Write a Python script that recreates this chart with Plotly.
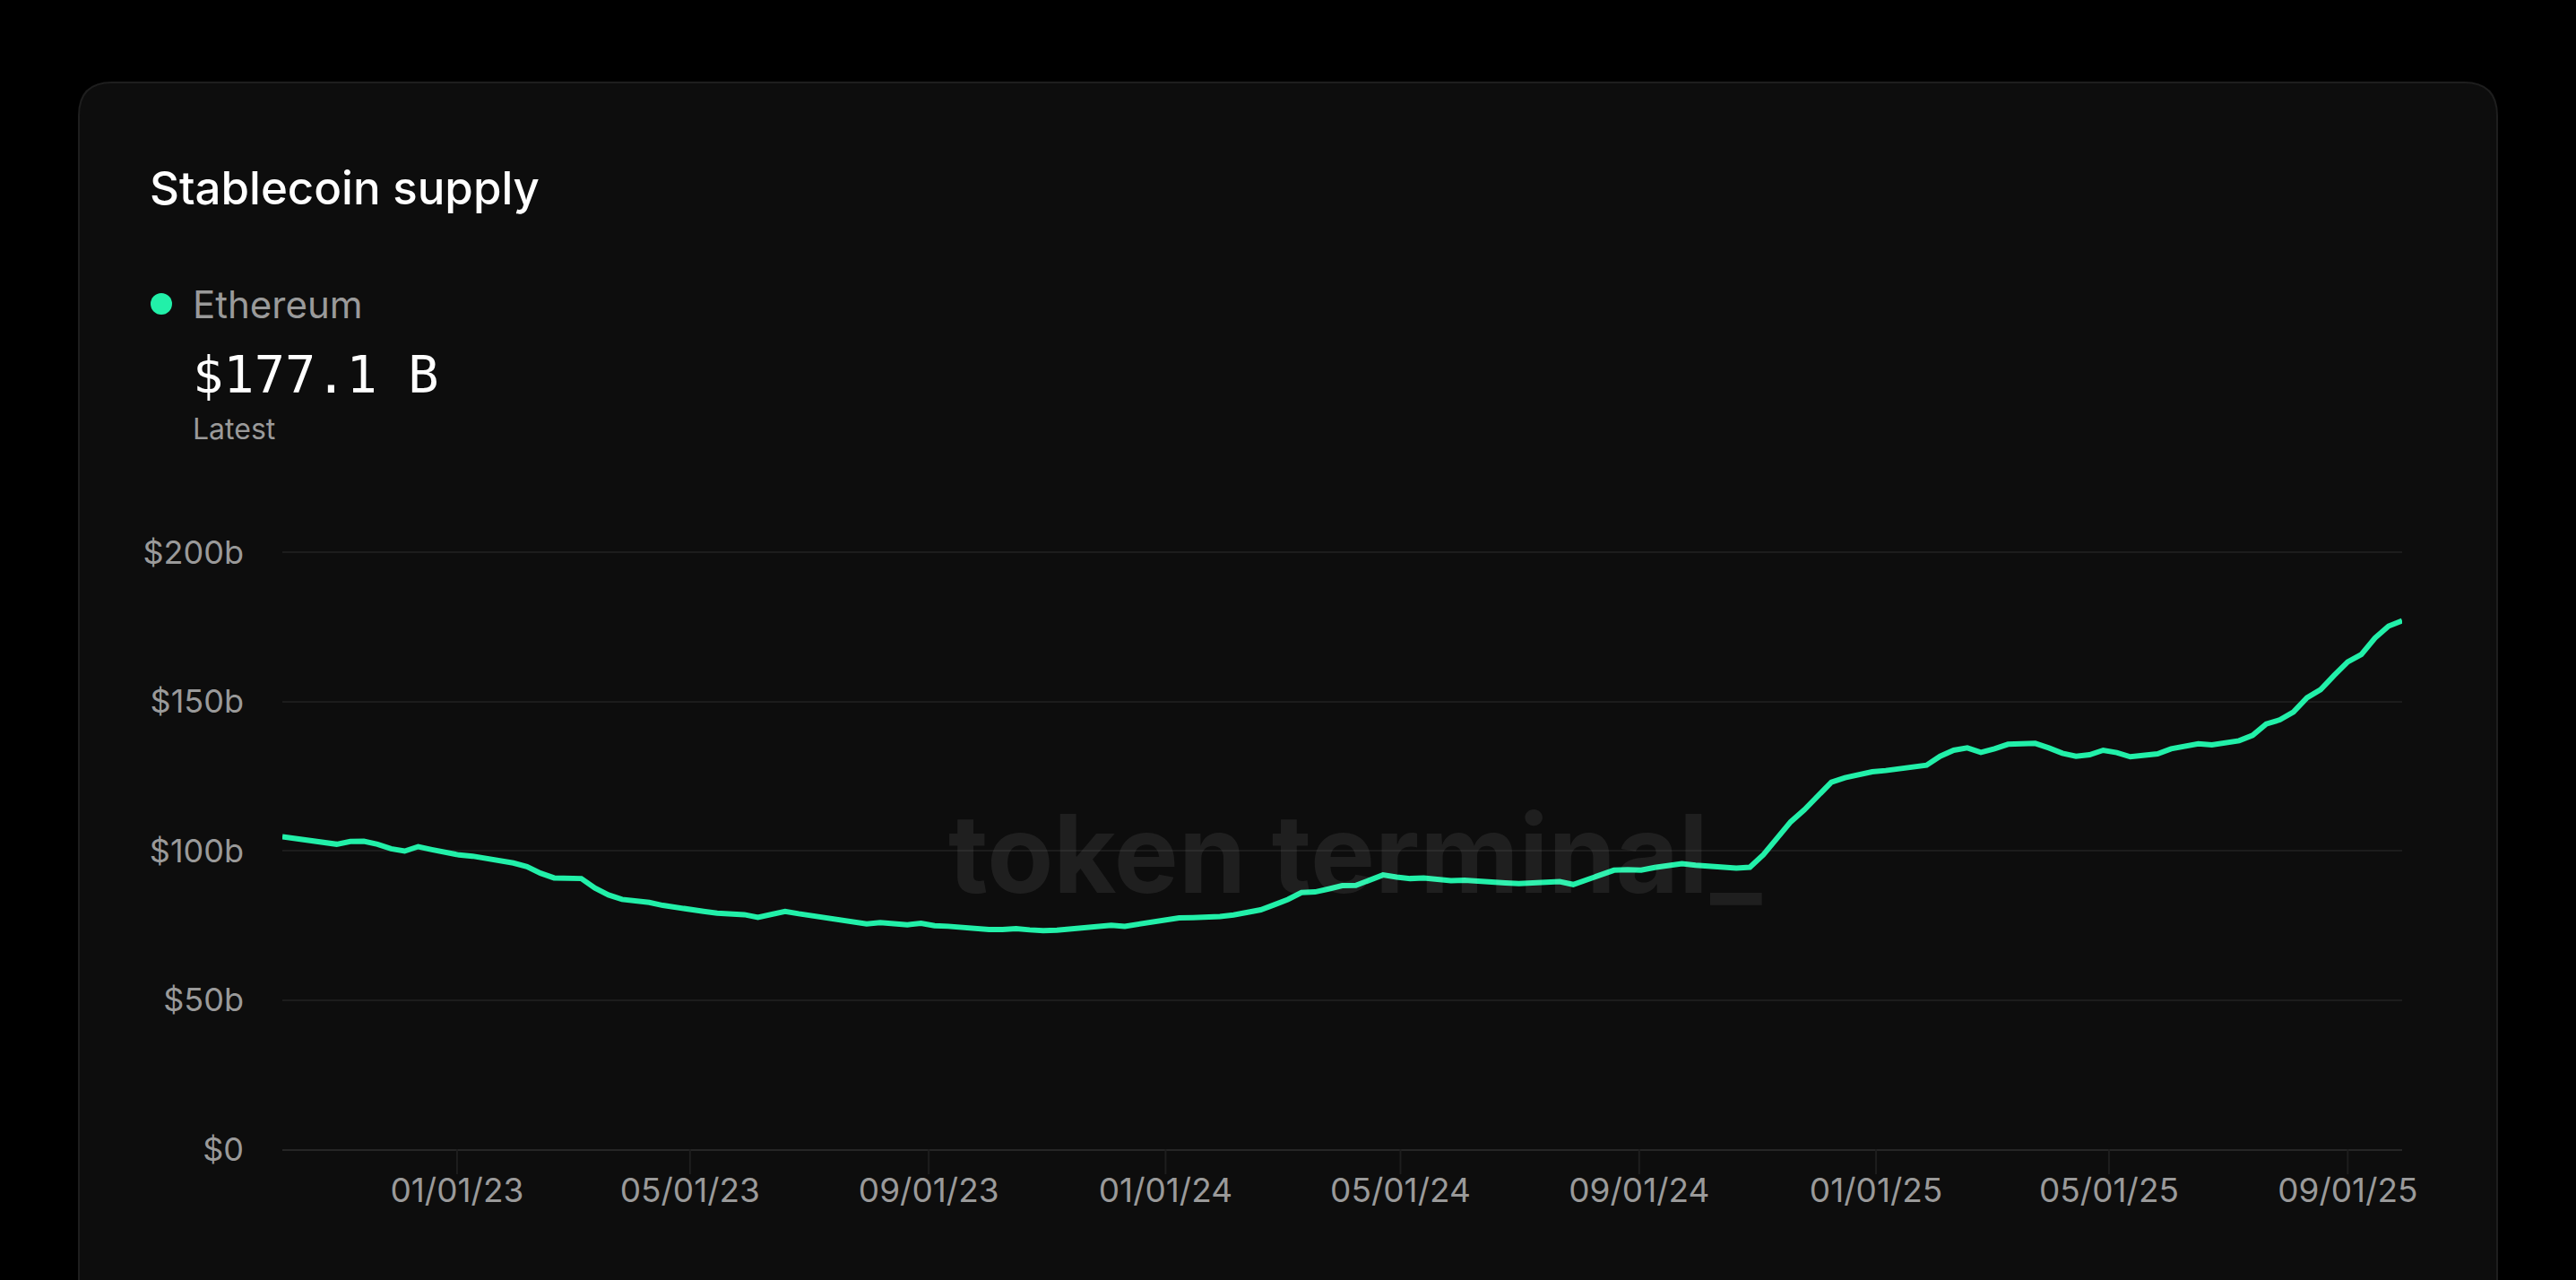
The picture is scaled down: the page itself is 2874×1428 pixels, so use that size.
import pandas as pd
import plotly.graph_objects as go

# weekly stablecoin supply on Ethereum, $ billions
start_date = "2022-10-03"
supply_b = [
    104.7, 104.1, 103.5, 102.9, 102.2, 103.1, 103.2, 102.2, 100.7, 99.9,
    101.4, 100.4, 99.4, 98.6, 98.2, 97.5, 96.6, 95.9, 94.7, 92.5,
    90.9, 90.7, 90.7, 87.5, 85.2, 83.7, 83.2, 82.7, 81.7, 80.9,
    80.4, 79.7, 79.1, 78.9, 78.6, 77.7, 78.7, 79.7, 78.9, 78.2,
    77.6, 77.0, 76.3, 75.5, 75.9, 75.7, 75.2, 75.7, 74.9, 74.7,
    74.2, 73.7, 73.6, 73.6, 73.9, 73.5, 73.2, 73.4, 73.7, 74.4,
    74.7, 75.0, 74.7, 75.4, 75.9, 76.7, 77.5, 77.6, 77.7, 78.0,
    78.5, 79.2, 80.2, 81.9, 83.7, 86.0, 86.2, 87.2, 88.3, 88.4,
    90.2, 91.9, 91.2, 90.7, 90.9, 90.5, 90.0, 90.1, 89.7, 89.5,
    89.2, 89.0, 89.2, 89.5, 89.7, 88.7, 90.2, 91.9, 93.5, 93.7,
    93.5, 94.4, 95.0, 95.7, 95.2, 95.0, 94.7, 94.2, 94.5, 98.7,
    104.2, 109.7, 113.7, 118.2, 123.0, 124.5, 125.7, 126.5, 126.9, 127.4,
    127.9, 128.7, 131.7, 133.7, 134.5, 133.0, 134.2, 135.7, 135.9, 136.0,
    134.5, 132.7, 131.7, 132.2, 133.7, 132.9, 131.5, 131.9, 132.5, 134.2,
    134.9, 135.9, 135.5, 136.4, 136.9, 138.7, 142.5, 143.9, 146.5, 151.3,
    154.0, 158.8, 163.3, 165.8, 171.3, 175.3, 177.1,
]
dates = pd.date_range(start=start_date, periods=len(supply_b), freq="7D")

x_tickvals = ["2023-01-01", "2023-05-01", "2023-09-01", "2024-01-01", "2024-05-01",
              "2024-09-01", "2025-01-01", "2025-05-01", "2025-09-01"]
y_tickvals = [0, 50, 100, 150, 200]
y_ticktext = ["$0", "$50b", "$100b", "$150b", "$200b"]

series_name = "Ethereum"
latest_text = "$177.1 B"

# layout in pixels
W, H = 2874, 1428
L, R, T, B = 315, 194, 613, 146
pw, ph = W - L - R, H - T - B

def px_x(p):
    return (p - L) / pw

def px_y(p):
    return (H - B - p) / ph

green = "#22F0A9"
grey = "#9a9a9a"

fig = go.Figure()

fig.add_trace(go.Scatter(
    x=dates, y=supply_b, mode="lines",
    line=dict(color=green, width=6),
    hoverinfo="skip", showlegend=False,
))

# card behind everything
x0, x1 = px_x(88), px_x(2786)
y0, y1 = px_y(1500), px_y(92)
rx, ry = 37 / pw, 37 / ph
card_path = (
    f"M {x0},{y0} L {x0},{y1 - ry} Q {x0},{y1} {x0 + rx},{y1} "
    f"L {x1 - rx},{y1} Q {x1},{y1} {x1},{y1 - ry} L {x1},{y0} Z"
)
fig.add_shape(type="path", path=card_path, xref="paper", yref="paper",
              fillcolor="#0d0d0d", line=dict(color="#1e1e1e", width=2), layer="below")

# little tick marks under the axis
for tv in x_tickvals:
    fig.add_shape(type="line", xref="x", yref="paper", x0=tv, x1=tv,
                  y0=0, y1=-28 / ph, line=dict(color="#1e1e1e", width=2))

# legend dot
fig.add_shape(type="circle", xref="paper", yref="paper",
              xsizemode="pixel", ysizemode="pixel",
              xanchor=px_x(180), yanchor=px_y(339),
              x0=-12, x1=12, y0=-12, y1=12,
              fillcolor=green, line=dict(width=0))

# header texts
fig.add_annotation(x=px_x(165), y=px_y(209), xref="paper", yref="paper",
                   text="Stablecoin supply", showarrow=False, xanchor="left", yanchor="middle",
                   font=dict(family="Inter", size=51, color="#ffffff", weight=500))
fig.add_annotation(x=px_x(213), y=px_y(339), xref="paper", yref="paper",
                   text=series_name, showarrow=False, xanchor="left", yanchor="middle",
                   font=dict(family="Inter", size=42, color=grey))
fig.add_annotation(x=px_x(213), y=px_y(418), xref="paper", yref="paper",
                   text=latest_text, showarrow=False, xanchor="left", yanchor="middle",
                   font=dict(family="DejaVu Sans Mono", size=57, color="#ffffff"))
fig.add_annotation(x=px_x(213), y=px_y(478), xref="paper", yref="paper",
                   text="Latest", showarrow=False, xanchor="left", yanchor="middle",
                   font=dict(family="Inter", size=32, color=grey))

# watermark
fig.add_annotation(x=px_x(1512), y=px_y(952), xref="paper", yref="paper",
                   text="token terminal_", showarrow=False, xanchor="center", yanchor="middle",
                   font=dict(family="Inter", size=121, color="rgba(255,255,255,0.075)", weight=700))

fig.update_layout(
    width=W, height=H,
    margin=dict(l=L, r=R, t=T, b=B, pad=0),
    paper_bgcolor="#000000",
    plot_bgcolor="rgba(0,0,0,0)",
    showlegend=False,
    hovermode=False,
    font=dict(family="Inter", color=grey),
)

fig.update_xaxes(
    range=[dates[0], dates[-1]],
    showgrid=False, zeroline=False,
    showline=True, linecolor="#262626", linewidth=2,
    ticks="", tickvals=x_tickvals, tickformat="%m/%d/%y",
    ticklabelstandoff=13,
    tickfont=dict(family="Inter", size=37, color=grey),
    fixedrange=True,
)
fig.update_yaxes(
    range=[0, 201],
    tickvals=y_tickvals, ticktext=y_ticktext,
    showgrid=True, gridcolor="#1c1c1c", gridwidth=2,
    zeroline=False, showline=False, ticks="",
    ticklabelstandoff=42,
    tickfont=dict(family="Inter", size=36, color=grey),
    fixedrange=True,
)

fig.write_html("out.html", config={"displayModeBar": False},
               post_script="document.body.style.margin='0px';")
